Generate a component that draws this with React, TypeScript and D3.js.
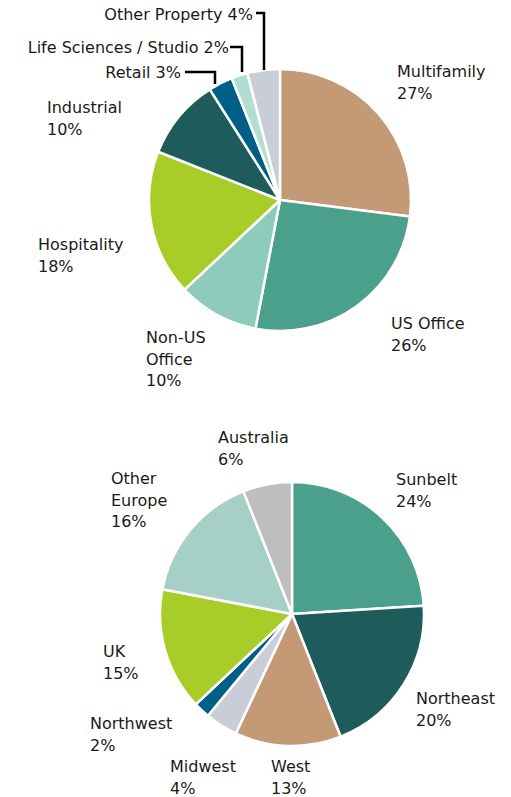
import * as d3 from "d3";

// property type allocation
const propertyNames = ["Multifamily", "US Office", "Non-US Office", "Hospitality", "Industrial", "Retail", "Life Sciences / Studio", "Other Property"];
const propertyValues = [27, 26, 10, 18, 10, 3, 2, 4];
const propertyColors = ["#c49a76", "#4ba08b", "#8fcbbb", "#a8cd28", "#1d5c5a", "#005f87", "#b2ddd2", "#c8cdd6"];

// region allocation
const regionNames = ["Sunbelt", "Northeast", "West", "Midwest", "Northwest", "UK", "Other Europe", "Australia"];
const regionValues = [24, 20, 13, 4, 2, 15, 16, 6];
const regionColors = ["#4ba08b", "#1d5c5a", "#c49a76", "#c8cdd6", "#005f87", "#a8cd28", "#a6d0c6", "#bebebe"];

// label layout: [x, baseline y, lines]
const propertyLabels: [number, number, string[]][] = [
  [397, 77, ["Multifamily", "27%"]],
  [391, 329, ["US Office", "26%"]],
  [146, 343, ["Non-US", "Office", "10%"]],
  [38, 250, ["Hospitality", "18%"]],
  [47, 113, ["Industrial", "10%"]],
];
const inlineLabels: [number, number, string, number[][]][] = [
  [181, 78, "Retail 3%", [[185, 72], [215, 72], [215, 84]]],
  [229, 53, "Life Sciences / Studio 2%", [[230, 47], [242, 47], [242, 72]]],
  [253, 20, "Other Property 4%", [[256, 13], [264, 13], [264, 70]]],
];
const regionLabels: [number, number, string[]][] = [
  [396, 485, ["Sunbelt", "24%"]],
  [416, 704, ["Northeast", "20%"]],
  [271, 772, ["West", "13%"]],
  [170, 772, ["Midwest", "4%"]],
  [90, 729, ["Northwest", "2%"]],
  [103, 657, ["UK", "15%"]],
  [111, 484, ["Other", "Europe", "16%"]],
  [218, 443, ["Australia", "6%"]],
];

const font = "'DejaVu Sans', sans-serif";
const fontSize = 16;
const lineH = 21.5;

function Pie({ cx, cy, r, values, colors }: { cx: number; cy: number; r: number; values: number[]; colors: string[] }) {
  const arcs = d3.pie<number>().sort(null).value((d) => d)(values);
  const arc = d3.arc<d3.PieArcDatum<number>>().innerRadius(0).outerRadius(r);
  return (
    <g transform={`translate(${cx},${cy})`}>
      {arcs.map((a, i) => (
        <path key={i} d={arc(a) || ""} fill={colors[i]} stroke="#fff" strokeWidth={2.5} strokeLinejoin="round" />
      ))}
    </g>
  );
}

function Label({ x, y, lines }: { x: number; y: number; lines: string[] }) {
  return (
    <text x={x} y={y} fontFamily={font} fontSize={fontSize} fill="#1a1a1a">
      {lines.map((l, i) => (
        <tspan key={i} x={x} y={y + i * lineH}>{l}</tspan>
      ))}
    </text>
  );
}

export default function App() {
  const line = d3.line();
  return (
    <svg width={511} height={797} style={{ position: "absolute", left: 0, top: 0 }}>
      <rect width={511} height={797} fill="#fff" />
      <Pie cx={280} cy={200} r={131} values={propertyValues} colors={propertyColors} />
      <Pie cx={292} cy={614} r={132} values={regionValues} colors={regionColors} />
      {propertyLabels.map(([x, y, lines], i) => (
        <Label key={i} x={x} y={y} lines={lines} />
      ))}
      {inlineLabels.map(([x, y, t, pts], i) => (
        <g key={i}>
          <text x={x} y={y} textAnchor="end" fontFamily={font} fontSize={fontSize} fill="#1a1a1a">{t}</text>
          <path d={line(pts as [number, number][]) || ""} fill="none" stroke="#000" strokeWidth={2.5} />
        </g>
      ))}
      {regionLabels.map(([x, y, lines], i) => (
        <Label key={i} x={x} y={y} lines={lines} />
      ))}
    </svg>
  );
}
